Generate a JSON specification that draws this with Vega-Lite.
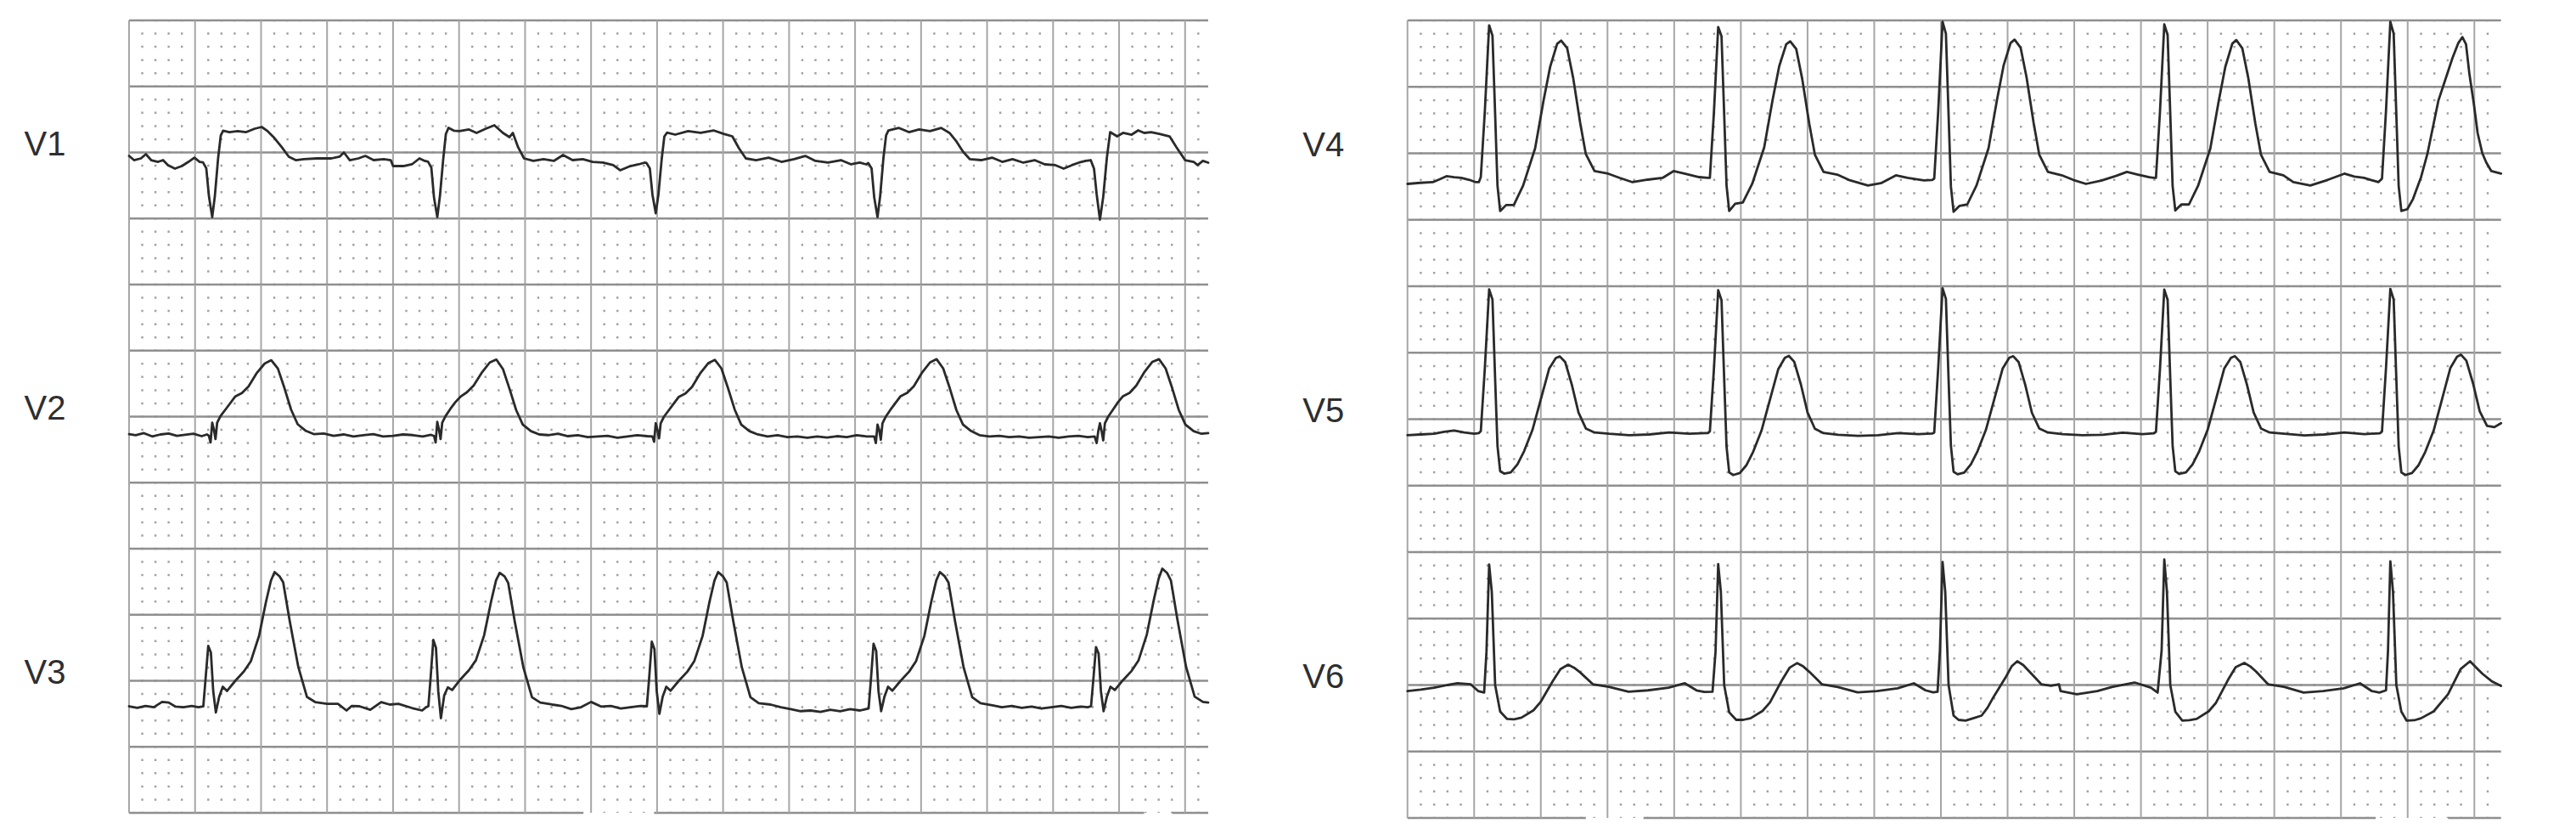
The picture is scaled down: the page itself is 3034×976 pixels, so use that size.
{
"$schema": "https://vega.github.io/schema/vega-lite/v6.json",
"background": "white",
"padding": {"left": 28, "top": 22, "right": 60, "bottom": 10},
"config": {"view": {"stroke": null}},
"datasets": {
"hgrid": [{"v": 1}, {"v": 0.5}, {"v": 0}, {"v": -0.5}],
"vgrid": [{"t": 0}, {"t": 0.2}, {"t": 0.4}, {"t": 0.6}, {"t": 0.8}, {"t": 1.0}, {"t": 1.2}, {"t": 1.4}, {"t": 1.6}, {"t": 1.8}, {"t": 2.0}, {"t": 2.2}, {"t": 2.4}, {"t": 2.6}, {"t": 2.8}, {"t": 3.0}, {"t": 3.2}],
"minor": [{"t":0.04},{"t":0.08},{"t":0.12},{"t":0.16},{"t":0.24},{"t":0.28},{"t":0.32},{"t":0.36},{"t":0.44},{"t":0.48},{"t":0.52},{"t":0.56},{"t":0.64},{"t":0.68},{"t":0.72},{"t":0.76},{"t":0.84},{"t":0.88},{"t":0.92},{"t":0.96},{"t":1.04},{"t":1.08},{"t":1.12},{"t":1.16},{"t":1.24},{"t":1.28},{"t":1.32},{"t":1.36},{"t":1.44},{"t":1.48},{"t":1.52},{"t":1.56},{"t":1.64},{"t":1.68},{"t":1.72},{"t":1.76},{"t":1.84},{"t":1.88},{"t":1.92},{"t":1.96},{"t":2.04},{"t":2.08},{"t":2.12},{"t":2.16},{"t":2.24},{"t":2.28},{"t":2.32},{"t":2.36},{"t":2.44},{"t":2.48},{"t":2.52},{"t":2.56},{"t":2.64},{"t":2.68},{"t":2.72},{"t":2.76},{"t":2.84},{"t":2.88},{"t":2.92},{"t":2.96},{"t":3.04},{"t":3.08},{"t":3.12},{"t":3.16},{"t":3.24}],
"bottomL": [{"t0": 0, "t1": 1.377, "v": -1}, {"t0": 1.591, "t1": 3.076, "v": -1}, {"t0": 3.16, "t1": 3.27, "v": -1}],
"bottomR": [{"t0": 0, "t1": 0.535, "v": -1}, {"t0": 0.708, "t1": 2.904, "v": -1}, {"t0": 3.121, "t1": 3.28, "v": -1}],
"V1": [
{"t":0,"v":-0.026},{"t":0.015,"v":-0.058},{"t":0.036,"v":-0.045},{"t":0.051,"v":-0.013},{"t":0.067,"v":-0.058},{"t":0.088,"v":-0.071},{"t":0.103,"v":-0.058},{"t":0.118,"v":-0.096},{"t":0.139,"v":-0.122},{"t":0.16,"v":-0.103},{"t":0.18,"v":-0.071},{"t":0.198,"v":-0.039},{"t":0.214,"v":-0.071},
{"t":0.224,"v":-0.075},{"t":0.234,"v":-0.12},{"t":0.242,"v":-0.33},{"t":0.252,"v":-0.489},{"t":0.26,"v":-0.33},{"t":0.27,"v":-0.04},{"t":0.278,"v":0.13},{"t":0.285,"v":0.165},
{"t":0.304,"v":0.154},{"t":0.329,"v":0.161},{"t":0.355,"v":0.154},{"t":0.381,"v":0.18},{"t":0.402,"v":0.193},{"t":0.42,"v":0.161},{"t":0.438,"v":0.116},{"t":0.463,"v":0.039},{"t":0.484,"v":-0.032},{"t":0.505,"v":-0.058},
{"t":0.53,"v":-0.051},{"t":0.569,"v":-0.045},{"t":0.613,"v":-0.045},{"t":0.638,"v":-0.032},{"t":0.651,"v":0.0},{"t":0.669,"v":-0.058},{"t":0.695,"v":-0.045},{"t":0.716,"v":-0.026},{"t":0.741,"v":-0.058},{"t":0.772,"v":-0.051},{"t":0.793,"v":-0.058},{"t":0.8,"v":-0.103},{"t":0.831,"v":-0.103},{"t":0.857,"v":-0.09},{"t":0.88,"v":-0.045},{"t":0.896,"v":-0.064},
{"t":0.906,"v":-0.07},{"t":0.916,"v":-0.115},{"t":0.924,"v":-0.34},{"t":0.934,"v":-0.489},{"t":0.942,"v":-0.33},{"t":0.952,"v":-0.05},{"t":0.96,"v":0.14},{"t":0.968,"v":0.186},
{"t":0.984,"v":0.165},{"t":1.001,"v":0.161},{"t":1.03,"v":0.174},{"t":1.053,"v":0.148},{"t":1.081,"v":0.18},{"t":1.107,"v":0.206},{"t":1.133,"v":0.148},{"t":1.153,"v":0.116},{"t":1.163,"v":0.148},{"t":1.179,"v":0.039},{"t":1.197,"v":-0.045},
{"t":1.225,"v":-0.064},{"t":1.256,"v":-0.051},{"t":1.287,"v":-0.064},{"t":1.315,"v":-0.019},{"t":1.344,"v":-0.058},{"t":1.375,"v":-0.051},{"t":1.405,"v":-0.071},{"t":1.436,"v":-0.077},{"t":1.467,"v":-0.096},{"t":1.488,"v":-0.135},{"t":1.519,"v":-0.103},{"t":1.544,"v":-0.09},{"t":1.562,"v":-0.077},
{"t":1.568,"v":-0.08},{"t":1.578,"v":-0.12},{"t":1.586,"v":-0.32},{"t":1.596,"v":-0.46},{"t":1.604,"v":-0.32},{"t":1.614,"v":-0.05},{"t":1.622,"v":0.12},{"t":1.63,"v":0.15},
{"t":1.655,"v":0.135},{"t":1.694,"v":0.161},{"t":1.732,"v":0.148},{"t":1.771,"v":0.167},{"t":1.802,"v":0.141},{"t":1.828,"v":0.122},{"t":1.848,"v":0.032},{"t":1.869,"v":-0.045},
{"t":1.9,"v":-0.058},{"t":1.938,"v":-0.039},{"t":1.977,"v":-0.071},{"t":2.015,"v":-0.051},{"t":2.049,"v":-0.026},{"t":2.08,"v":-0.064},{"t":2.118,"v":-0.077},{"t":2.157,"v":-0.058},{"t":2.188,"v":-0.09},{"t":2.214,"v":-0.077},{"t":2.234,"v":-0.09},
{"t":2.24,"v":-0.08},{"t":2.25,"v":-0.12},{"t":2.258,"v":-0.34},{"t":2.268,"v":-0.489},{"t":2.276,"v":-0.33},{"t":2.286,"v":-0.04},{"t":2.294,"v":0.13},{"t":2.301,"v":0.167},
{"t":2.332,"v":0.186},{"t":2.363,"v":0.154},{"t":2.394,"v":0.174},{"t":2.427,"v":0.161},{"t":2.461,"v":0.186},{"t":2.486,"v":0.148},{"t":2.507,"v":0.084},{"t":2.527,"v":0.006},{"t":2.548,"v":-0.051},
{"t":2.582,"v":-0.058},{"t":2.615,"v":-0.039},{"t":2.646,"v":-0.071},{"t":2.677,"v":-0.051},{"t":2.71,"v":-0.077},{"t":2.744,"v":-0.058},{"t":2.775,"v":-0.09},{"t":2.807,"v":-0.096},{"t":2.832,"v":-0.122},{"t":2.857,"v":-0.096},{"t":2.878,"v":-0.077},{"t":2.899,"v":-0.064},
{"t":2.914,"v":-0.058},{"t":2.924,"v":-0.122},{"t":2.932,"v":-0.315},{"t":2.942,"v":-0.508},{"t":2.952,"v":-0.335},{"t":2.963,"v":-0.039},{"t":2.973,"v":0.154},
{"t":2.994,"v":0.122},{"t":3.012,"v":0.148},{"t":3.038,"v":0.135},{"t":3.058,"v":0.167},{"t":3.076,"v":0.148},{"t":3.097,"v":0.154},{"t":3.122,"v":0.141},{"t":3.153,"v":0.122},{"t":3.174,"v":0.039},{"t":3.2,"v":-0.058},{"t":3.226,"v":-0.071},{"t":3.238,"v":-0.096},{"t":3.254,"v":-0.064},{"t":3.27,"v":-0.077}
],
"V2": [
{"t":0,"v":-0.133},{"t":0.02,"v":-0.14},{"t":0.045,"v":-0.125},{"t":0.07,"v":-0.15},{"t":0.095,"v":-0.135},{"t":0.12,"v":-0.128},{"t":0.145,"v":-0.145},{"t":0.17,"v":-0.138},{"t":0.195,"v":-0.13},{"t":0.22,"v":-0.148},{"t":0.236,"v":-0.135},
{"t":0.242,"v":-0.146},{"t":0.247,"v":-0.195},{"t":0.252,"v":-0.046},{"t":0.257,"v":-0.096},{"t":0.262,"v":-0.17},{"t":0.267,"v":-0.046},{"t":0.277,"v":0.004},{"t":0.292,"v":0.053},{"t":0.307,"v":0.103},{"t":0.322,"v":0.153},{"t":0.342,"v":0.178},{"t":0.362,"v":0.228},{"t":0.386,"v":0.327},{"t":0.411,"v":0.402},{"t":0.431,"v":0.427},{"t":0.451,"v":0.364},{"t":0.471,"v":0.215},{"t":0.491,"v":0.053},{"t":0.511,"v":-0.058},{"t":0.536,"v":-0.108},{"t":0.561,"v":-0.133},
{"t":0.59,"v":-0.128},{"t":0.62,"v":-0.145},{"t":0.65,"v":-0.135},{"t":0.68,"v":-0.15},{"t":0.71,"v":-0.14},{"t":0.74,"v":-0.132},{"t":0.77,"v":-0.15},{"t":0.8,"v":-0.145},{"t":0.83,"v":-0.135},{"t":0.86,"v":-0.14},{"t":0.89,"v":-0.15},{"t":0.915,"v":-0.138},
{"t":0.924,"v":-0.146},{"t":0.929,"v":-0.195},{"t":0.934,"v":-0.04},{"t":0.939,"v":-0.096},{"t":0.944,"v":-0.17},{"t":0.949,"v":-0.046},{"t":0.959,"v":0.004},{"t":0.974,"v":0.06},{"t":0.989,"v":0.11},{"t":1.004,"v":0.15},{"t":1.024,"v":0.185},{"t":1.044,"v":0.235},{"t":1.068,"v":0.33},{"t":1.093,"v":0.41},{"t":1.113,"v":0.432},{"t":1.133,"v":0.36},{"t":1.153,"v":0.21},{"t":1.173,"v":0.05},{"t":1.193,"v":-0.06},{"t":1.218,"v":-0.11},{"t":1.243,"v":-0.135},
{"t":1.27,"v":-0.14},{"t":1.3,"v":-0.13},{"t":1.33,"v":-0.148},{"t":1.36,"v":-0.14},{"t":1.39,"v":-0.155},{"t":1.42,"v":-0.15},{"t":1.45,"v":-0.145},{"t":1.48,"v":-0.16},{"t":1.51,"v":-0.15},{"t":1.54,"v":-0.14},{"t":1.57,"v":-0.148},
{"t":1.586,"v":-0.15},{"t":1.591,"v":-0.19},{"t":1.596,"v":-0.05},{"t":1.601,"v":-0.1},{"t":1.606,"v":-0.165},{"t":1.611,"v":-0.05},{"t":1.621,"v":0.0},{"t":1.636,"v":0.05},{"t":1.651,"v":0.1},{"t":1.666,"v":0.15},{"t":1.686,"v":0.175},{"t":1.706,"v":0.225},{"t":1.73,"v":0.325},{"t":1.755,"v":0.405},{"t":1.775,"v":0.43},{"t":1.795,"v":0.365},{"t":1.815,"v":0.215},{"t":1.835,"v":0.055},{"t":1.855,"v":-0.06},{"t":1.88,"v":-0.11},{"t":1.905,"v":-0.135},
{"t":1.935,"v":-0.15},{"t":1.965,"v":-0.14},{"t":1.995,"v":-0.155},{"t":2.025,"v":-0.15},{"t":2.055,"v":-0.16},{"t":2.085,"v":-0.15},{"t":2.115,"v":-0.158},{"t":2.145,"v":-0.148},{"t":2.175,"v":-0.155},{"t":2.205,"v":-0.14},{"t":2.235,"v":-0.15},
{"t":2.258,"v":-0.15},{"t":2.263,"v":-0.2},{"t":2.268,"v":-0.06},{"t":2.273,"v":-0.1},{"t":2.278,"v":-0.175},{"t":2.283,"v":-0.05},{"t":2.293,"v":0.0},{"t":2.308,"v":0.055},{"t":2.323,"v":0.105},{"t":2.338,"v":0.155},{"t":2.358,"v":0.18},{"t":2.378,"v":0.23},{"t":2.402,"v":0.33},{"t":2.427,"v":0.41},{"t":2.447,"v":0.435},{"t":2.467,"v":0.365},{"t":2.487,"v":0.215},{"t":2.507,"v":0.05},{"t":2.527,"v":-0.06},{"t":2.552,"v":-0.11},{"t":2.577,"v":-0.14},
{"t":2.607,"v":-0.15},{"t":2.637,"v":-0.145},{"t":2.667,"v":-0.155},{"t":2.697,"v":-0.15},{"t":2.727,"v":-0.16},{"t":2.757,"v":-0.155},{"t":2.787,"v":-0.15},{"t":2.817,"v":-0.16},{"t":2.847,"v":-0.15},{"t":2.877,"v":-0.145},{"t":2.905,"v":-0.155},
{"t":2.926,"v":-0.15},{"t":2.932,"v":-0.2},{"t":2.937,"v":-0.11},{"t":2.942,"v":-0.05},{"t":2.947,"v":-0.11},{"t":2.952,"v":-0.18},{"t":2.957,"v":-0.05},{"t":2.967,"v":0.0},{"t":2.982,"v":0.055},{"t":2.997,"v":0.11},{"t":3.012,"v":0.155},{"t":3.032,"v":0.18},{"t":3.052,"v":0.235},{"t":3.076,"v":0.335},{"t":3.101,"v":0.415},{"t":3.121,"v":0.435},{"t":3.141,"v":0.365},{"t":3.161,"v":0.215},{"t":3.181,"v":0.05},{"t":3.201,"v":-0.06},{"t":3.226,"v":-0.11},{"t":3.25,"v":-0.13},{"t":3.27,"v":-0.125}
],
"V3": [
{"t":0,"v":-0.193},{"t":0.025,"v":-0.205},{"t":0.05,"v":-0.19},{"t":0.075,"v":-0.2},{"t":0.1,"v":-0.16},{"t":0.12,"v":-0.165},{"t":0.14,"v":-0.195},{"t":0.165,"v":-0.2},{"t":0.19,"v":-0.19},{"t":0.21,"v":-0.2},{"t":0.225,"v":-0.193},
{"t":0.232,"v":0.019},{"t":0.24,"v":0.264},{"t":0.248,"v":0.214},{"t":0.255,"v":-0.077},{"t":0.263,"v":-0.24},{"t":0.273,"v":-0.122},{"t":0.284,"v":-0.045},{"t":0.297,"v":-0.077},{"t":0.322,"v":0.0},{"t":0.348,"v":0.071},{"t":0.369,"v":0.148},{"t":0.394,"v":0.341},{"t":0.415,"v":0.598},{"t":0.43,"v":0.759},{"t":0.441,"v":0.823},{"t":0.456,"v":0.791},{"t":0.467,"v":0.746},{"t":0.487,"v":0.45},{"t":0.513,"v":0.103},{"t":0.539,"v":-0.122},{"t":0.564,"v":-0.161},{"t":0.6,"v":-0.174},
{"t":0.633,"v":-0.174},{"t":0.659,"v":-0.225},{"t":0.675,"v":-0.19},{"t":0.698,"v":-0.193},{"t":0.731,"v":-0.219},{"t":0.764,"v":-0.161},{"t":0.79,"v":-0.18},{"t":0.816,"v":-0.174},{"t":0.857,"v":-0.206},{"t":0.888,"v":-0.225},{"t":0.9,"v":-0.2},{"t":0.907,"v":-0.193},
{"t":0.914,"v":0.03},{"t":0.922,"v":0.309},{"t":0.93,"v":0.25},{"t":0.937,"v":-0.08},{"t":0.945,"v":-0.283},{"t":0.955,"v":-0.11},{"t":0.966,"v":-0.05},{"t":0.979,"v":-0.07},{"t":1.004,"v":0.01},{"t":1.03,"v":0.08},{"t":1.051,"v":0.155},{"t":1.076,"v":0.345},{"t":1.097,"v":0.6},{"t":1.112,"v":0.76},{"t":1.123,"v":0.817},{"t":1.138,"v":0.79},{"t":1.149,"v":0.74},{"t":1.169,"v":0.445},{"t":1.195,"v":0.1},{"t":1.221,"v":-0.125},{"t":1.246,"v":-0.165},{"t":1.282,"v":-0.18},
{"t":1.31,"v":-0.19},{"t":1.34,"v":-0.215},{"t":1.37,"v":-0.2},{"t":1.4,"v":-0.16},{"t":1.43,"v":-0.195},{"t":1.46,"v":-0.19},{"t":1.49,"v":-0.21},{"t":1.52,"v":-0.2},{"t":1.55,"v":-0.19},{"t":1.569,"v":-0.193},
{"t":1.576,"v":0.02},{"t":1.584,"v":0.296},{"t":1.592,"v":0.24},{"t":1.599,"v":-0.08},{"t":1.607,"v":-0.25},{"t":1.617,"v":-0.12},{"t":1.628,"v":-0.045},{"t":1.641,"v":-0.075},{"t":1.666,"v":0.0},{"t":1.692,"v":0.07},{"t":1.713,"v":0.15},{"t":1.738,"v":0.34},{"t":1.759,"v":0.6},{"t":1.774,"v":0.76},{"t":1.785,"v":0.823},{"t":1.8,"v":0.79},{"t":1.811,"v":0.745},{"t":1.831,"v":0.45},{"t":1.857,"v":0.1},{"t":1.883,"v":-0.125},{"t":1.908,"v":-0.17},{"t":1.944,"v":-0.18},
{"t":1.975,"v":-0.2},{"t":2.005,"v":-0.215},{"t":2.035,"v":-0.23},{"t":2.065,"v":-0.225},{"t":2.095,"v":-0.235},{"t":2.125,"v":-0.22},{"t":2.155,"v":-0.23},{"t":2.185,"v":-0.215},{"t":2.215,"v":-0.225},{"t":2.241,"v":-0.21},
{"t":2.248,"v":0.01},{"t":2.256,"v":0.28},{"t":2.264,"v":0.225},{"t":2.271,"v":-0.08},{"t":2.279,"v":-0.23},{"t":2.289,"v":-0.12},{"t":2.3,"v":-0.045},{"t":2.313,"v":-0.075},{"t":2.338,"v":0.0},{"t":2.364,"v":0.07},{"t":2.385,"v":0.15},{"t":2.41,"v":0.34},{"t":2.431,"v":0.6},{"t":2.446,"v":0.76},{"t":2.457,"v":0.823},{"t":2.472,"v":0.79},{"t":2.483,"v":0.745},{"t":2.503,"v":0.45},{"t":2.529,"v":0.1},{"t":2.555,"v":-0.125},{"t":2.58,"v":-0.17},{"t":2.616,"v":-0.185},
{"t":2.645,"v":-0.2},{"t":2.675,"v":-0.19},{"t":2.705,"v":-0.205},{"t":2.735,"v":-0.195},{"t":2.765,"v":-0.21},{"t":2.795,"v":-0.2},{"t":2.825,"v":-0.19},{"t":2.855,"v":-0.205},{"t":2.885,"v":-0.195},{"t":2.905,"v":-0.2},{"t":2.915,"v":-0.193},
{"t":2.922,"v":0.01},{"t":2.93,"v":0.255},{"t":2.938,"v":0.205},{"t":2.945,"v":-0.08},{"t":2.953,"v":-0.23},{"t":2.963,"v":-0.12},{"t":2.974,"v":-0.045},{"t":2.987,"v":-0.07},{"t":3.012,"v":0.005},{"t":3.038,"v":0.075},{"t":3.059,"v":0.155},{"t":3.084,"v":0.35},{"t":3.105,"v":0.61},{"t":3.12,"v":0.775},{"t":3.131,"v":0.849},{"t":3.146,"v":0.815},{"t":3.157,"v":0.76},{"t":3.177,"v":0.46},{"t":3.203,"v":0.105},{"t":3.229,"v":-0.12},{"t":3.254,"v":-0.16},{"t":3.27,"v":-0.165}
],
"V4": [
{"t":0,"v":-0.23},{"t":0.038,"v":-0.222},{"t":0.076,"v":-0.217},{"t":0.097,"v":-0.195},{"t":0.117,"v":-0.172},{"t":0.14,"v":-0.18},{"t":0.161,"v":-0.185},{"t":0.186,"v":-0.2},{"t":0.205,"v":-0.217},
{"t":0.214,"v":-0.217},{"t":0.22,"v":-0.179},{"t":0.232,"v":0.313},{"t":0.245,"v":0.963},{"t":0.255,"v":0.886},{"t":0.263,"v":0.293},{"t":0.27,"v":-0.242},{"t":0.278,"v":-0.434},{"t":0.296,"v":-0.389},{"t":0.319,"v":-0.389},{"t":0.347,"v":-0.242},{"t":0.383,"v":0.038},{"t":0.408,"v":0.395},{"t":0.428,"v":0.651},{"t":0.449,"v":0.823},{"t":0.461,"v":0.848},{"t":0.479,"v":0.791},{"t":0.497,"v":0.568},{"t":0.518,"v":0.23},{"t":0.535,"v":-0.006},{"t":0.561,"v":-0.134},{"t":0.602,"v":-0.153},{"t":0.637,"v":-0.185},{"t":0.675,"v":-0.217},{"t":0.721,"v":-0.198},{"t":0.765,"v":-0.185},{"t":0.798,"v":-0.134},{"t":0.831,"v":-0.153},{"t":0.875,"v":-0.179},{"t":0.901,"v":-0.185},
{"t":0.907,"v":-0.185},{"t":0.919,"v":0.3},{"t":0.932,"v":0.95},{"t":0.942,"v":0.88},{"t":0.95,"v":0.29},{"t":0.957,"v":-0.24},{"t":0.965,"v":-0.434},{"t":0.983,"v":-0.38},{"t":1.006,"v":-0.37},{"t":1.034,"v":-0.23},{"t":1.07,"v":0.045},{"t":1.095,"v":0.4},{"t":1.115,"v":0.655},{"t":1.136,"v":0.82},{"t":1.148,"v":0.842},{"t":1.166,"v":0.785},{"t":1.184,"v":0.56},{"t":1.205,"v":0.225},{"t":1.222,"v":-0.01},{"t":1.248,"v":-0.14},{"t":1.289,"v":-0.16},{"t":1.324,"v":-0.2},{"t":1.381,"v":-0.242},{"t":1.42,"v":-0.225},{"t":1.465,"v":-0.166},{"t":1.5,"v":-0.185},{"t":1.549,"v":-0.204},{"t":1.574,"v":-0.2},
{"t":1.58,"v":-0.19},{"t":1.592,"v":0.32},{"t":1.605,"v":0.99},{"t":1.615,"v":0.9},{"t":1.623,"v":0.29},{"t":1.63,"v":-0.25},{"t":1.638,"v":-0.44},{"t":1.656,"v":-0.395},{"t":1.679,"v":-0.385},{"t":1.707,"v":-0.24},{"t":1.743,"v":0.04},{"t":1.768,"v":0.4},{"t":1.788,"v":0.66},{"t":1.809,"v":0.83},{"t":1.821,"v":0.855},{"t":1.839,"v":0.795},{"t":1.857,"v":0.57},{"t":1.878,"v":0.23},{"t":1.895,"v":-0.01},{"t":1.921,"v":-0.14},{"t":1.962,"v":-0.165},{"t":1.997,"v":-0.2},{"t":2.035,"v":-0.23},{"t":2.081,"v":-0.205},{"t":2.125,"v":-0.17},{"t":2.158,"v":-0.14},{"t":2.191,"v":-0.16},{"t":2.225,"v":-0.18},{"t":2.239,"v":-0.185},
{"t":2.245,"v":-0.185},{"t":2.257,"v":0.31},{"t":2.27,"v":0.97},{"t":2.28,"v":0.89},{"t":2.288,"v":0.29},{"t":2.295,"v":-0.245},{"t":2.303,"v":-0.43},{"t":2.321,"v":-0.385},{"t":2.344,"v":-0.385},{"t":2.372,"v":-0.24},{"t":2.408,"v":0.035},{"t":2.433,"v":0.39},{"t":2.453,"v":0.65},{"t":2.474,"v":0.825},{"t":2.486,"v":0.852},{"t":2.504,"v":0.79},{"t":2.522,"v":0.565},{"t":2.543,"v":0.225},{"t":2.56,"v":-0.01},{"t":2.586,"v":-0.14},{"t":2.627,"v":-0.165},{"t":2.657,"v":-0.217},{"t":2.708,"v":-0.242},{"t":2.76,"v":-0.2},{"t":2.81,"v":-0.153},{"t":2.84,"v":-0.175},{"t":2.869,"v":-0.185},{"t":2.912,"v":-0.217},
{"t":2.923,"v":-0.19},{"t":2.935,"v":0.32},{"t":2.948,"v":0.99},{"t":2.958,"v":0.9},{"t":2.966,"v":0.29},{"t":2.973,"v":-0.245},{"t":2.981,"v":-0.434},{"t":2.999,"v":-0.42},{"t":3.016,"v":-0.344},{"t":3.04,"v":-0.18},{"t":3.059,"v":-0.006},{"t":3.092,"v":0.395},{"t":3.134,"v":0.714},{"t":3.152,"v":0.83},{"t":3.164,"v":0.874},{"t":3.175,"v":0.82},{"t":3.185,"v":0.6},{"t":3.198,"v":0.38},{"t":3.21,"v":0.15},{"t":3.224,"v":0.0},{"t":3.236,"v":-0.07},{"t":3.251,"v":-0.134},{"t":3.28,"v":-0.153}
],
"V5": [
{"t":0,"v":-0.12},{"t":0.04,"v":-0.115},{"t":0.08,"v":-0.11},{"t":0.11,"v":-0.095},{"t":0.14,"v":-0.085},{"t":0.17,"v":-0.1},{"t":0.2,"v":-0.11},{"t":0.214,"v":-0.105},
{"t":0.22,"v":-0.09},{"t":0.232,"v":0.38},{"t":0.245,"v":0.976},{"t":0.255,"v":0.9},{"t":0.263,"v":0.3},{"t":0.27,"v":-0.2},{"t":0.278,"v":-0.39},{"t":0.29,"v":-0.41},{"t":0.31,"v":-0.4},{"t":0.33,"v":-0.34},{"t":0.35,"v":-0.24},{"t":0.375,"v":-0.08},{"t":0.4,"v":0.15},{"t":0.425,"v":0.38},{"t":0.445,"v":0.46},{"t":0.457,"v":0.472},{"t":0.473,"v":0.43},{"t":0.493,"v":0.26},{"t":0.513,"v":0.05},{"t":0.535,"v":-0.07},{"t":0.561,"v":-0.1},{"t":0.605,"v":-0.11},{"t":0.665,"v":-0.12},{"t":0.725,"v":-0.115},{"t":0.785,"v":-0.1},{"t":0.845,"v":-0.11},{"t":0.895,"v":-0.105},
{"t":0.901,"v":-0.105},{"t":0.907,"v":-0.092},{"t":0.919,"v":0.37},{"t":0.932,"v":0.97},{"t":0.942,"v":0.895},{"t":0.95,"v":0.3},{"t":0.957,"v":-0.205},{"t":0.965,"v":-0.4},{"t":0.977,"v":-0.42},{"t":0.997,"v":-0.405},{"t":1.017,"v":-0.345},{"t":1.037,"v":-0.245},{"t":1.062,"v":-0.085},{"t":1.087,"v":0.145},{"t":1.112,"v":0.375},{"t":1.132,"v":0.462},{"t":1.144,"v":0.476},{"t":1.16,"v":0.432},{"t":1.18,"v":0.262},{"t":1.2,"v":0.05},{"t":1.222,"v":-0.072},{"t":1.248,"v":-0.105},{"t":1.292,"v":-0.118},{"t":1.352,"v":-0.125},{"t":1.412,"v":-0.12},{"t":1.472,"v":-0.105},{"t":1.532,"v":-0.112},{"t":1.574,"v":-0.108},
{"t":1.58,"v":-0.1},{"t":1.592,"v":0.39},{"t":1.605,"v":0.985},{"t":1.615,"v":0.905},{"t":1.623,"v":0.3},{"t":1.63,"v":-0.2},{"t":1.638,"v":-0.395},{"t":1.65,"v":-0.415},{"t":1.67,"v":-0.402},{"t":1.69,"v":-0.34},{"t":1.71,"v":-0.24},{"t":1.735,"v":-0.08},{"t":1.76,"v":0.15},{"t":1.785,"v":0.38},{"t":1.805,"v":0.462},{"t":1.817,"v":0.474},{"t":1.833,"v":0.43},{"t":1.853,"v":0.258},{"t":1.873,"v":0.048},{"t":1.895,"v":-0.07},{"t":1.921,"v":-0.1},{"t":1.965,"v":-0.112},{"t":2.025,"v":-0.12},{"t":2.085,"v":-0.118},{"t":2.145,"v":-0.102},{"t":2.205,"v":-0.112},{"t":2.239,"v":-0.106},
{"t":2.245,"v":-0.095},{"t":2.257,"v":0.375},{"t":2.27,"v":0.975},{"t":2.28,"v":0.898},{"t":2.288,"v":0.3},{"t":2.295,"v":-0.2},{"t":2.303,"v":-0.392},{"t":2.315,"v":-0.412},{"t":2.335,"v":-0.4},{"t":2.355,"v":-0.34},{"t":2.375,"v":-0.24},{"t":2.4,"v":-0.08},{"t":2.425,"v":0.15},{"t":2.45,"v":0.382},{"t":2.47,"v":0.462},{"t":2.482,"v":0.474},{"t":2.498,"v":0.43},{"t":2.518,"v":0.26},{"t":2.538,"v":0.05},{"t":2.56,"v":-0.07},{"t":2.586,"v":-0.1},{"t":2.63,"v":-0.11},{"t":2.69,"v":-0.122},{"t":2.75,"v":-0.115},{"t":2.81,"v":-0.1},{"t":2.87,"v":-0.112},{"t":2.917,"v":-0.106},
{"t":2.923,"v":-0.092},{"t":2.935,"v":0.385},{"t":2.948,"v":0.98},{"t":2.958,"v":0.9},{"t":2.966,"v":0.3},{"t":2.973,"v":-0.205},{"t":2.981,"v":-0.4},{"t":2.993,"v":-0.42},{"t":3.013,"v":-0.405},{"t":3.033,"v":-0.345},{"t":3.053,"v":-0.245},{"t":3.078,"v":-0.085},{"t":3.103,"v":0.15},{"t":3.128,"v":0.385},{"t":3.148,"v":0.47},{"t":3.16,"v":0.485},{"t":3.176,"v":0.44},{"t":3.196,"v":0.27},{"t":3.216,"v":0.06},{"t":3.238,"v":-0.05},{"t":3.26,"v":-0.06},{"t":3.28,"v":-0.03}
],
"V6": [
{"t":0,"v":-0.045},{"t":0.04,"v":-0.035},{"t":0.08,"v":-0.02},{"t":0.12,"v":0.0},{"t":0.15,"v":0.013},{"t":0.19,"v":0.005},{"t":0.212,"v":-0.045},{"t":0.23,"v":-0.057},
{"t":0.237,"v":0.25},{"t":0.245,"v":0.906},{"t":0.253,"v":0.7},{"t":0.263,"v":0.0},{"t":0.278,"v":-0.2},{"t":0.299,"v":-0.255},{"t":0.32,"v":-0.258},{"t":0.342,"v":-0.245},{"t":0.378,"v":-0.19},{"t":0.4,"v":-0.125},{"t":0.436,"v":0.03},{"t":0.459,"v":0.12},{"t":0.482,"v":0.153},{"t":0.5,"v":0.13},{"t":0.518,"v":0.095},{"t":0.556,"v":0.006},{"t":0.604,"v":-0.013},{"t":0.663,"v":-0.05},{"t":0.721,"v":-0.04},{"t":0.783,"v":-0.02},{"t":0.832,"v":0.013},{"t":0.867,"v":-0.04},{"t":0.89,"v":-0.052},{"t":0.915,"v":-0.05},
{"t":0.924,"v":0.25},{"t":0.932,"v":0.91},{"t":0.94,"v":0.7},{"t":0.95,"v":0.0},{"t":0.965,"v":-0.205},{"t":0.986,"v":-0.262},{"t":1.007,"v":-0.262},{"t":1.029,"v":-0.25},{"t":1.065,"v":-0.195},{"t":1.087,"v":-0.132},{"t":1.123,"v":0.035},{"t":1.146,"v":0.13},{"t":1.169,"v":0.165},{"t":1.187,"v":0.14},{"t":1.205,"v":0.1},{"t":1.243,"v":0.006},{"t":1.291,"v":-0.015},{"t":1.35,"v":-0.055},{"t":1.408,"v":-0.045},{"t":1.47,"v":-0.025},{"t":1.519,"v":0.013},{"t":1.554,"v":-0.04},{"t":1.577,"v":-0.055},{"t":1.59,"v":-0.05},
{"t":1.597,"v":0.26},{"t":1.605,"v":0.925},{"t":1.613,"v":0.7},{"t":1.623,"v":0.0},{"t":1.638,"v":-0.23},{"t":1.653,"v":-0.262},{"t":1.674,"v":-0.268},{"t":1.697,"v":-0.25},{"t":1.722,"v":-0.23},{"t":1.74,"v":-0.17},{"t":1.758,"v":-0.089},{"t":1.794,"v":0.057},{"t":1.812,"v":0.14},{"t":1.829,"v":0.179},{"t":1.847,"v":0.15},{"t":1.865,"v":0.102},{"t":1.901,"v":0.006},{"t":1.93,"v":-0.005},{"t":1.954,"v":0.006},{"t":1.959,"v":-0.045},{"t":2.008,"v":-0.07},{"t":2.069,"v":-0.045},{"t":2.115,"v":-0.013},{"t":2.181,"v":0.019},{"t":2.23,"v":-0.02},{"t":2.25,"v":-0.057},
{"t":2.262,"v":0.26},{"t":2.27,"v":0.944},{"t":2.278,"v":0.7},{"t":2.288,"v":0.0},{"t":2.303,"v":-0.2},{"t":2.324,"v":-0.268},{"t":2.345,"v":-0.265},{"t":2.367,"v":-0.255},{"t":2.403,"v":-0.198},{"t":2.425,"v":-0.134},{"t":2.461,"v":0.038},{"t":2.484,"v":0.134},{"t":2.51,"v":0.166},{"t":2.528,"v":0.14},{"t":2.545,"v":0.102},{"t":2.581,"v":0.006},{"t":2.629,"v":-0.013},{"t":2.688,"v":-0.057},{"t":2.746,"v":-0.045},{"t":2.808,"v":-0.025},{"t":2.857,"v":0.013},{"t":2.892,"v":-0.045},{"t":2.915,"v":-0.057},{"t":2.935,"v":-0.04},
{"t":2.941,"v":0.26},{"t":2.948,"v":0.931},{"t":2.956,"v":0.7},{"t":2.966,"v":0.0},{"t":2.981,"v":-0.2},{"t":2.997,"v":-0.268},{"t":3.02,"v":-0.265},{"t":3.04,"v":-0.25},{"t":3.078,"v":-0.198},{"t":3.121,"v":-0.07},{"t":3.159,"v":0.121},{"t":3.187,"v":0.179},{"t":3.21,"v":0.12},{"t":3.225,"v":0.083},{"t":3.254,"v":0.025},{"t":3.28,"v":-0.006}
]
},
"spacing": 108.7,
"hconcat": [
{"spacing": 0, "bounds": "flush", "vconcat": [
{"width": 1271, "height": 311, "layer": [
{"data": {"name": "minor"}, "mark": {"type": "rule", "color": "#a0a0a0", "strokeWidth": 2.4, "strokeDash": [2.5, 13.05], "strokeDashOffset": 1.25}, "encoding": {"x": {"field": "t", "type": "quantitative", "scale": {"domain": [0, 3.27], "nice": false, "zero": false}, "axis": null}}},
{"data": {"name": "hgrid"}, "mark": {"type": "rule", "color": "#8f8f8f", "strokeWidth": 2.4}, "encoding": {"y": {"field": "v", "type": "quantitative", "scale": {"domain": [-1, 1], "nice": false, "zero": false}, "axis": {"title": null, "grid": false, "ticks": false, "domain": false, "minExtent": 0, "values": [0.06], "labelExpr": "'V1'", "labelPadding": 75, "labelFontSize": 40, "labelFont": "Liberation Sans", "labelColor": "#2e2e2e", "labelBaseline": "middle"}}}},
{"data": {"name": "vgrid"}, "mark": {"type": "rule", "color": "#a6a6a6", "strokeWidth": 2}, "encoding": {"x": {"field": "t", "type": "quantitative", "scale": {"domain": [0, 3.27], "nice": false, "zero": false}, "axis": null}}},
{"data": {"name": "V1"}, "mark": {"type": "line", "color": "#2a2a2a", "strokeWidth": 2.8, "strokeJoin": "round", "strokeCap": "round"},
 "encoding": {
  "x": {"field": "t", "type": "quantitative", "scale": {"domain": [0, 3.27], "nice": false, "zero": false}, "axis": null},
  "y": {"field": "v", "type": "quantitative", "scale": {"domain": [-1, 1], "nice": false, "zero": false}, "axis": {"title": null, "grid": false, "ticks": false, "domain": false, "minExtent": 0, "values": [0.06], "labelExpr": "'V1'", "labelPadding": 75, "labelFontSize": 40, "labelFont": "Liberation Sans", "labelColor": "#2e2e2e", "labelBaseline": "middle"}}
 }}
]},
{"width": 1271, "height": 311, "layer": [
{"data": {"name": "minor"}, "mark": {"type": "rule", "color": "#a0a0a0", "strokeWidth": 2.4, "strokeDash": [2.5, 13.05], "strokeDashOffset": 1.25}, "encoding": {"x": {"field": "t", "type": "quantitative", "scale": {"domain": [0, 3.27], "nice": false, "zero": false}, "axis": null}}},
{"data": {"name": "hgrid"}, "mark": {"type": "rule", "color": "#8f8f8f", "strokeWidth": 2.4}, "encoding": {"y": {"field": "v", "type": "quantitative", "scale": {"domain": [-1, 1], "nice": false, "zero": false}, "axis": {"title": null, "grid": false, "ticks": false, "domain": false, "minExtent": 0, "values": [0.06], "labelExpr": "'V2'", "labelPadding": 75, "labelFontSize": 40, "labelFont": "Liberation Sans", "labelColor": "#2e2e2e", "labelBaseline": "middle"}}}},
{"data": {"name": "vgrid"}, "mark": {"type": "rule", "color": "#a6a6a6", "strokeWidth": 2}, "encoding": {"x": {"field": "t", "type": "quantitative", "scale": {"domain": [0, 3.27], "nice": false, "zero": false}, "axis": null}}},
{"data": {"name": "V2"}, "mark": {"type": "line", "color": "#2a2a2a", "strokeWidth": 2.8, "strokeJoin": "round", "strokeCap": "round"},
 "encoding": {
  "x": {"field": "t", "type": "quantitative", "scale": {"domain": [0, 3.27], "nice": false, "zero": false}, "axis": null},
  "y": {"field": "v", "type": "quantitative", "scale": {"domain": [-1, 1], "nice": false, "zero": false}, "axis": {"title": null, "grid": false, "ticks": false, "domain": false, "minExtent": 0, "values": [0.06], "labelExpr": "'V2'", "labelPadding": 75, "labelFontSize": 40, "labelFont": "Liberation Sans", "labelColor": "#2e2e2e", "labelBaseline": "middle"}}
 }}
]},
{"width": 1271, "height": 311, "layer": [
{"data": {"name": "minor"}, "mark": {"type": "rule", "color": "#a0a0a0", "strokeWidth": 2.4, "strokeDash": [2.5, 13.05], "strokeDashOffset": 1.25}, "encoding": {"x": {"field": "t", "type": "quantitative", "scale": {"domain": [0, 3.27], "nice": false, "zero": false}, "axis": null}}},
{"data": {"name": "hgrid"}, "mark": {"type": "rule", "color": "#8f8f8f", "strokeWidth": 2.4}, "encoding": {"y": {"field": "v", "type": "quantitative", "scale": {"domain": [-1, 1], "nice": false, "zero": false}, "axis": {"title": null, "grid": false, "ticks": false, "domain": false, "minExtent": 0, "values": [0.06], "labelExpr": "'V3'", "labelPadding": 75, "labelFontSize": 40, "labelFont": "Liberation Sans", "labelColor": "#2e2e2e", "labelBaseline": "middle"}}}},
{"data": {"name": "bottomL"}, "mark": {"type": "rule", "color": "#8f8f8f", "strokeWidth": 2.4}, "encoding": {"y": {"field": "v", "type": "quantitative", "scale": {"domain": [-1, 1], "nice": false, "zero": false}, "axis": {"title": null, "grid": false, "ticks": false, "domain": false, "minExtent": 0, "values": [0.06], "labelExpr": "'V3'", "labelPadding": 75, "labelFontSize": 40, "labelFont": "Liberation Sans", "labelColor": "#2e2e2e", "labelBaseline": "middle"}}, "x": {"field": "t0", "type": "quantitative", "scale": {"domain": [0, 3.27], "nice": false, "zero": false}, "axis": null}, "x2": {"field": "t1"}}},
{"data": {"name": "vgrid"}, "mark": {"type": "rule", "color": "#a6a6a6", "strokeWidth": 2}, "encoding": {"x": {"field": "t", "type": "quantitative", "scale": {"domain": [0, 3.27], "nice": false, "zero": false}, "axis": null}}},
{"data": {"name": "V3"}, "mark": {"type": "line", "color": "#2a2a2a", "strokeWidth": 2.8, "strokeJoin": "round", "strokeCap": "round"},
 "encoding": {
  "x": {"field": "t", "type": "quantitative", "scale": {"domain": [0, 3.27], "nice": false, "zero": false}, "axis": null},
  "y": {"field": "v", "type": "quantitative", "scale": {"domain": [-1, 1], "nice": false, "zero": false}, "axis": {"title": null, "grid": false, "ticks": false, "domain": false, "minExtent": 0, "values": [0.06], "labelExpr": "'V3'", "labelPadding": 75, "labelFontSize": 40, "labelFont": "Liberation Sans", "labelColor": "#2e2e2e", "labelBaseline": "middle"}}
 }}
]}
]},
{"spacing": 0, "bounds": "flush", "vconcat": [
{"width": 1288, "height": 313, "layer": [
{"data": {"name": "minor"}, "mark": {"type": "rule", "color": "#a0a0a0", "strokeWidth": 2.4, "strokeDash": [2.5, 13.15], "strokeDashOffset": 1.25}, "encoding": {"x": {"field": "t", "type": "quantitative", "scale": {"domain": [0, 3.28], "nice": false, "zero": false}, "axis": null}}},
{"data": {"name": "hgrid"}, "mark": {"type": "rule", "color": "#8f8f8f", "strokeWidth": 2.4}, "encoding": {"y": {"field": "v", "type": "quantitative", "scale": {"domain": [-1, 1], "nice": false, "zero": false}, "axis": {"title": null, "grid": false, "ticks": false, "domain": false, "minExtent": 0, "values": [0.06], "labelExpr": "'V4'", "labelPadding": 75, "labelFontSize": 40, "labelFont": "Liberation Sans", "labelColor": "#2e2e2e", "labelBaseline": "middle"}}}},
{"data": {"name": "vgrid"}, "mark": {"type": "rule", "color": "#a6a6a6", "strokeWidth": 2}, "encoding": {"x": {"field": "t", "type": "quantitative", "scale": {"domain": [0, 3.28], "nice": false, "zero": false}, "axis": null}}},
{"data": {"name": "V4"}, "mark": {"type": "line", "color": "#2a2a2a", "strokeWidth": 2.8, "strokeJoin": "round", "strokeCap": "round"},
 "encoding": {
  "x": {"field": "t", "type": "quantitative", "scale": {"domain": [0, 3.28], "nice": false, "zero": false}, "axis": null},
  "y": {"field": "v", "type": "quantitative", "scale": {"domain": [-1, 1], "nice": false, "zero": false}, "axis": {"title": null, "grid": false, "ticks": false, "domain": false, "minExtent": 0, "values": [0.06], "labelExpr": "'V4'", "labelPadding": 75, "labelFontSize": 40, "labelFont": "Liberation Sans", "labelColor": "#2e2e2e", "labelBaseline": "middle"}}
 }}
]},
{"width": 1288, "height": 313, "layer": [
{"data": {"name": "minor"}, "mark": {"type": "rule", "color": "#a0a0a0", "strokeWidth": 2.4, "strokeDash": [2.5, 13.15], "strokeDashOffset": 1.25}, "encoding": {"x": {"field": "t", "type": "quantitative", "scale": {"domain": [0, 3.28], "nice": false, "zero": false}, "axis": null}}},
{"data": {"name": "hgrid"}, "mark": {"type": "rule", "color": "#8f8f8f", "strokeWidth": 2.4}, "encoding": {"y": {"field": "v", "type": "quantitative", "scale": {"domain": [-1, 1], "nice": false, "zero": false}, "axis": {"title": null, "grid": false, "ticks": false, "domain": false, "minExtent": 0, "values": [0.06], "labelExpr": "'V5'", "labelPadding": 75, "labelFontSize": 40, "labelFont": "Liberation Sans", "labelColor": "#2e2e2e", "labelBaseline": "middle"}}}},
{"data": {"name": "vgrid"}, "mark": {"type": "rule", "color": "#a6a6a6", "strokeWidth": 2}, "encoding": {"x": {"field": "t", "type": "quantitative", "scale": {"domain": [0, 3.28], "nice": false, "zero": false}, "axis": null}}},
{"data": {"name": "V5"}, "mark": {"type": "line", "color": "#2a2a2a", "strokeWidth": 2.8, "strokeJoin": "round", "strokeCap": "round"},
 "encoding": {
  "x": {"field": "t", "type": "quantitative", "scale": {"domain": [0, 3.28], "nice": false, "zero": false}, "axis": null},
  "y": {"field": "v", "type": "quantitative", "scale": {"domain": [-1, 1], "nice": false, "zero": false}, "axis": {"title": null, "grid": false, "ticks": false, "domain": false, "minExtent": 0, "values": [0.06], "labelExpr": "'V5'", "labelPadding": 75, "labelFontSize": 40, "labelFont": "Liberation Sans", "labelColor": "#2e2e2e", "labelBaseline": "middle"}}
 }}
]},
{"width": 1288, "height": 313, "layer": [
{"data": {"name": "minor"}, "mark": {"type": "rule", "color": "#a0a0a0", "strokeWidth": 2.4, "strokeDash": [2.5, 13.15], "strokeDashOffset": 1.25}, "encoding": {"x": {"field": "t", "type": "quantitative", "scale": {"domain": [0, 3.28], "nice": false, "zero": false}, "axis": null}}},
{"data": {"name": "hgrid"}, "mark": {"type": "rule", "color": "#8f8f8f", "strokeWidth": 2.4}, "encoding": {"y": {"field": "v", "type": "quantitative", "scale": {"domain": [-1, 1], "nice": false, "zero": false}, "axis": {"title": null, "grid": false, "ticks": false, "domain": false, "minExtent": 0, "values": [0.06], "labelExpr": "'V6'", "labelPadding": 75, "labelFontSize": 40, "labelFont": "Liberation Sans", "labelColor": "#2e2e2e", "labelBaseline": "middle"}}}},
{"data": {"name": "bottomR"}, "mark": {"type": "rule", "color": "#8f8f8f", "strokeWidth": 2.4}, "encoding": {"y": {"field": "v", "type": "quantitative", "scale": {"domain": [-1, 1], "nice": false, "zero": false}, "axis": {"title": null, "grid": false, "ticks": false, "domain": false, "minExtent": 0, "values": [0.06], "labelExpr": "'V6'", "labelPadding": 75, "labelFontSize": 40, "labelFont": "Liberation Sans", "labelColor": "#2e2e2e", "labelBaseline": "middle"}}, "x": {"field": "t0", "type": "quantitative", "scale": {"domain": [0, 3.28], "nice": false, "zero": false}, "axis": null}, "x2": {"field": "t1"}}},
{"data": {"name": "vgrid"}, "mark": {"type": "rule", "color": "#a6a6a6", "strokeWidth": 2}, "encoding": {"x": {"field": "t", "type": "quantitative", "scale": {"domain": [0, 3.28], "nice": false, "zero": false}, "axis": null}}},
{"data": {"name": "V6"}, "mark": {"type": "line", "color": "#2a2a2a", "strokeWidth": 2.8, "strokeJoin": "round", "strokeCap": "round"},
 "encoding": {
  "x": {"field": "t", "type": "quantitative", "scale": {"domain": [0, 3.28], "nice": false, "zero": false}, "axis": null},
  "y": {"field": "v", "type": "quantitative", "scale": {"domain": [-1, 1], "nice": false, "zero": false}, "axis": {"title": null, "grid": false, "ticks": false, "domain": false, "minExtent": 0, "values": [0.06], "labelExpr": "'V6'", "labelPadding": 75, "labelFontSize": 40, "labelFont": "Liberation Sans", "labelColor": "#2e2e2e", "labelBaseline": "middle"}}
 }}
]}
]}
]
}
